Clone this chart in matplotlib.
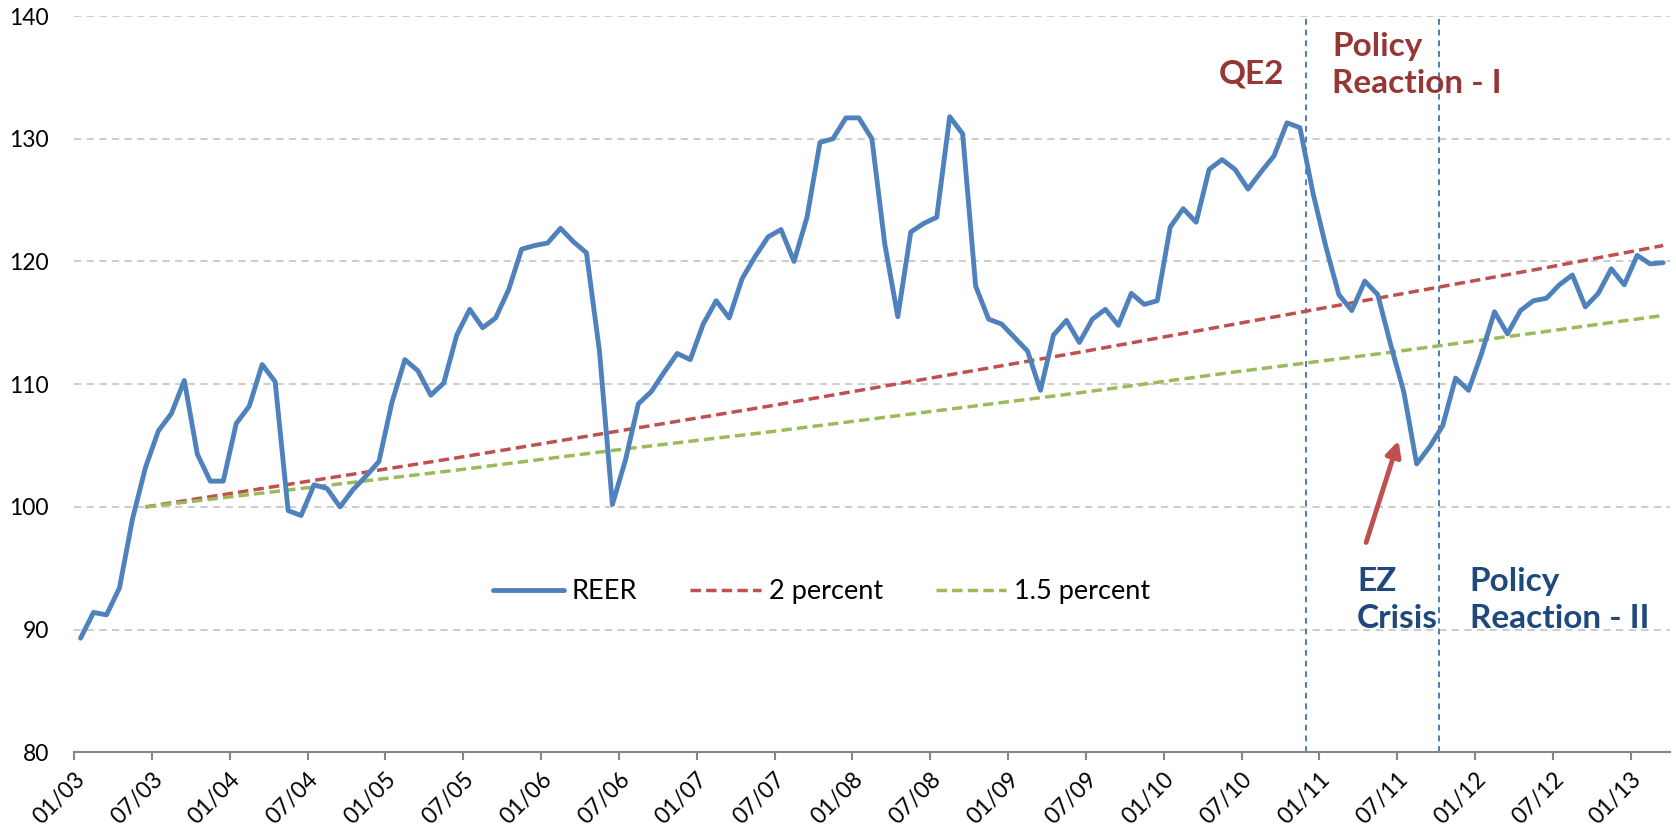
import numpy as np
import matplotlib
matplotlib.use("Agg")
import matplotlib.pyplot as plt

# monthly REER, 01/03 .. 03/13
reer = [89.3, 91.4, 91.2, 93.4, 99.0, 103.2, 106.2, 107.6, 110.3, 104.3, 102.1, 102.1,
        106.8, 108.2, 111.6, 110.2, 99.7, 99.3, 101.8, 101.5, 100.0, 101.4, 102.5, 103.7,
        108.5, 112.0, 111.1, 109.1, 110.1, 114.0, 116.1, 114.6, 115.4, 117.7, 121.0, 121.3,
        121.5, 122.7, 121.6, 120.7, 112.7, 100.2, 103.8, 108.4, 109.4, 111.0, 112.5, 112.0,
        114.9, 116.8, 115.4, 118.6, 120.4, 122.0, 122.6, 120.0, 123.6, 129.7, 130.0, 131.7,
        131.7, 130.0, 121.4, 115.5, 122.4, 123.1, 123.6, 131.8, 130.4, 118.0, 115.3, 114.9,
        113.8, 112.7, 109.5, 114.0, 115.2, 113.4, 115.3, 116.1, 114.8, 117.4, 116.5, 116.8,
        122.8, 124.3, 123.2, 127.5, 128.3, 127.5, 125.9, 127.3, 128.6, 131.3, 130.9, 125.6,
        121.2, 117.3, 116.0, 118.4, 117.3, 113.2, 109.4, 103.5, 104.9, 106.6, 110.5, 109.5,
        112.5, 115.9, 114.1, 116.0, 116.8, 117.0, 118.1, 118.9, 116.3, 117.4, 119.4, 118.1,
        120.5, 119.8, 119.9]

# trend lines, read at yearly steps from month index 5
trend_idx = [5, 17, 29, 41, 53, 65, 77, 89, 101, 113, 122]
trend_2 = [100.0, 102.0, 104.0, 106.1, 108.2, 110.4, 112.6, 114.9, 117.2, 119.5, 121.3]
trend_15 = [100.0, 101.5, 103.0, 104.6, 106.1, 107.7, 109.3, 111.0, 112.6, 114.3, 115.6]

tick_months = list(range(0, 121, 6))
tick_labels = ["01/03", "07/03", "01/04", "07/04", "01/05", "07/05", "01/06", "07/06",
               "01/07", "07/07", "01/08", "07/08", "01/09", "07/09", "01/10", "07/10",
               "01/11", "07/11", "01/12", "07/12", "01/13"]

event_lines = [95.0, 105.2]

plt.rcParams['font.family'] = ['Lato', 'DejaVu Sans']

fig = plt.figure(figsize=(16.76, 8.35), dpi=100)
ax = fig.add_axes([0.0442, 0.099, 0.952, 0.8818])

x = np.arange(len(reer)) + 0.5
tx = np.array(trend_idx) + 0.5

ax.plot(x, reer, color='#4F81BD', lw=3.5, label='REER', solid_joinstyle='round',
        solid_capstyle='round', zorder=4)
ax.plot(tx, trend_2, color='#C0504D', lw=2.5, ls=(0, (3, 1.5)), label='2 percent', zorder=3)
ax.plot(tx, trend_15, color='#9BBB59', lw=2.5, ls=(0, (3, 1.5)), label='1.5 percent', zorder=3)

for m in event_lines:
    ax.axvline(m, color='#4A7EBB', lw=1.4, ls=(0, (3, 2.5)), zorder=2)

ax.set_xlim(0, 123)
ax.set_ylim(80, 140)
ax.set_yticks(range(80, 141, 10))
ax.set_xticks(tick_months)
ax.set_xticklabels(tick_labels, rotation=45, ha='right', rotation_mode='anchor')

ax.grid(axis='y', color='#C8C8C8', ls=(0, (4, 3)), lw=1.3)
ax.set_axisbelow(True)
for s in ['top', 'right', 'left']:
    ax.spines[s].set_visible(False)
ax.spines['bottom'].set_color('#868686')
ax.spines['bottom'].set_linewidth(1.5)
ax.tick_params(axis='y', length=0, pad=18, labelsize=16.5)
ax.tick_params(axis='x', length=6, width=1.5, color='#868686', labelsize=16.5, pad=6)

ax.legend(loc='center', bbox_to_anchor=(0.4686, 0.218), ncol=3, frameon=False,
          fontsize=19.5, handlelength=2.6, handletextpad=0.3, columnspacing=1.95)

red_txt = '#953735'
blue_txt = '#1F497D'
ax.text(90.75, 135.3, 'QE2', color=red_txt, fontsize=24, fontweight='bold',
        ha='center', va='center')
ax.text(97.0, 136.0, 'Policy\nReaction - I', color=red_txt, fontsize=24, fontweight='bold',
        ha='left', va='center', linespacing=1.35)
ax.text(98.9, 92.4, 'EZ\nCrisis', color=blue_txt, fontsize=24, fontweight='bold',
        ha='left', va='center', linespacing=1.35)
ax.text(107.6, 92.4, 'Policy\nReaction - II', color=blue_txt, fontsize=24, fontweight='bold',
        ha='left', va='center', linespacing=1.35)

ax.annotate('', xy=(102.1, 105.4), xytext=(99.6, 97.1),
            arrowprops=dict(arrowstyle='-|>,head_length=0.9,head_width=0.45',
                            color='#C0504D', lw=3.5, shrinkA=0, shrinkB=0))

fig.savefig('out.png', dpi=100)
